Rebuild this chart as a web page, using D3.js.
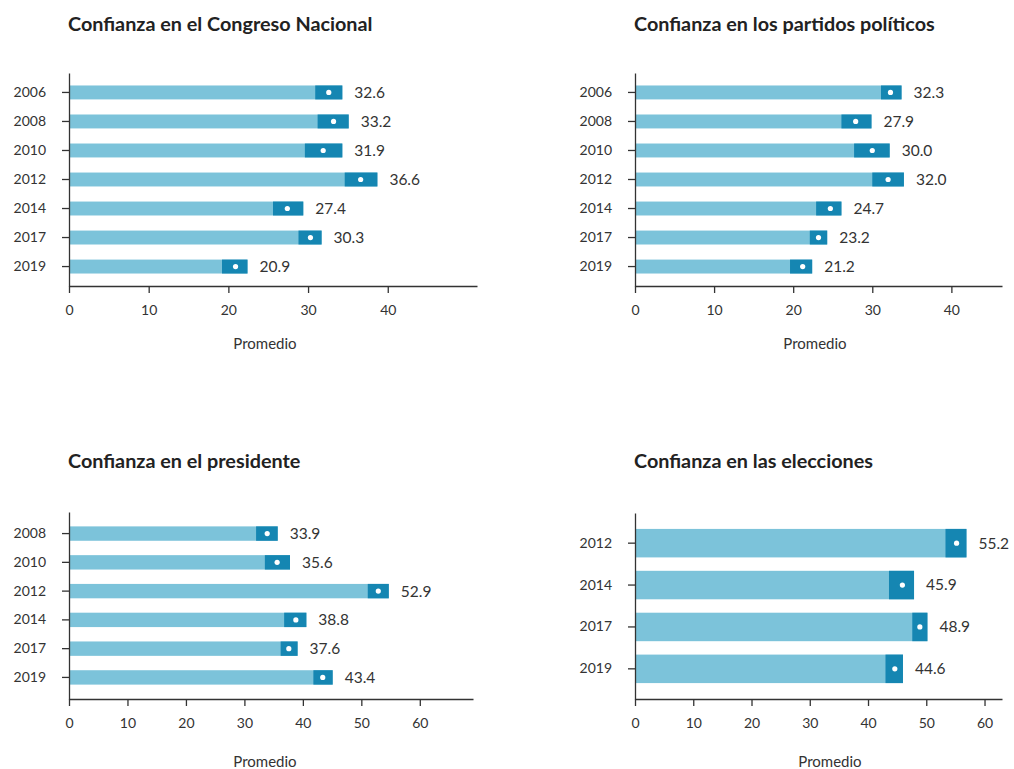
<!DOCTYPE html>
<html>
<head>
<meta charset="utf-8">
<script src="https://cdn.jsdelivr.net/npm/d3@7"></script>
<style>
  body { margin: 0; background: #fff; font-family: Lato, "Open Sans", sans-serif; }
  .title { font-weight: 700; font-size: 19.8px; fill: #222; }
  .axis text { font-family: Lato, sans-serif; font-size: 14px; fill: #333; }
  .axis path, .axis line { stroke: #333; stroke-width: 1.3; }
  .val { font-size: 15.5px; fill: #333; }
  .xlab { font-size: 15px; fill: #333; }
</style>
</head>
<body>
<svg id="chart" width="1014" height="769"></svg>
<script>
// data: mean and 95% interval
const congresoYears = ["2006", "2008", "2010", "2012", "2014", "2017", "2019"]
const congresoMean = [32.6, 33.2, 31.9, 36.6, 27.4, 30.3, 20.9]
const congresoLow  = [30.9, 31.2, 29.6, 34.6, 25.6, 28.8, 19.2]
const congresoHigh = [34.3, 35.1, 34.3, 38.7, 29.4, 31.7, 22.4]

const partidosYears = ["2006", "2008", "2010", "2012", "2014", "2017", "2019"]
const partidosMean = [32.3, 27.9, 30.0, 32.0, 24.7, 23.2, 21.2]
const partidosLow  = [31.1, 26.1, 27.7, 30.0, 22.9, 22.1, 19.6]
const partidosHigh = [33.7, 29.9, 32.2, 34.0, 26.1, 24.3, 22.4]

const presidenteYears = ["2008", "2010", "2012", "2014", "2017", "2019"]
const presidenteMean = [33.9, 35.6, 52.9, 38.8, 37.6, 43.4]
const presidenteLow  = [32.0, 33.5, 51.1, 36.8, 36.2, 41.8]
const presidenteHigh = [35.7, 37.8, 54.7, 40.6, 39.1, 45.1]

const eleccionesYears = ["2012", "2014", "2017", "2019"]
const eleccionesMean = [55.2, 45.9, 48.9, 44.6]
const eleccionesLow  = [53.3, 43.6, 47.6, 43.0]
const eleccionesHigh = [56.9, 47.9, 50.2, 46.0]

const ticks40 = [0, 10, 20, 30, 40]
const ticks60 = [0, 10, 20, 30, 40, 50, 60]

function rows(years, mean, low, high) {
    return years.map((y, i) => ({year: y, mean: mean[i], low: low[i], high: high[i]}))
}

// panel layout
let panels = [
    {title: "Confianza en el Congreso Nacional", data: rows(congresoYears, congresoMean, congresoLow, congresoHigh),
     left: 69, right: 477, xMax: 51.2, top: 73, bottom: 286, pIn: 0.52, pOut: 0.43, ticks: ticks40,
     titleY: 31, labX: 265, labY: 349},
    {title: "Confianza en los partidos políticos", data: rows(partidosYears, partidosMean, partidosLow, partidosHigh),
     left: 635, right: 1002, xMax: 46.4, top: 73, bottom: 286, pIn: 0.52, pOut: 0.43, ticks: ticks40,
     titleY: 31, labX: 815, labY: 349},
    {title: "Confianza en el presidente", data: rows(presidenteYears, presidenteMean, presidenteLow, presidenteHigh),
     left: 69, right: 473, xMax: 69.1, top: 512, bottom: 699, pIn: 0.5, pOut: 0.5, ticks: ticks60,
     titleY: 468, labX: 265, labY: 767},
    {title: "Confianza en las elecciones", data: rows(eleccionesYears, eleccionesMean, eleccionesLow, eleccionesHigh),
     left: 635, right: 1002, xMax: 63, top: 513, bottom: 699, pIn: 0.32, pOut: 0.38, ticks: ticks60,
     titleY: 468, labX: 830, labY: 767}
]

const lightBlue = "#7cc3da"
const darkBlue = "#1586b2"

let svg = d3.select("#chart")

panels.forEach(p => {
    let g = svg.append("g")

    g.append("text")
        .attr("class", "title")
        .attr("x", p.left - 1)
        .attr("y", p.titleY)
        .text(p.title)

    let x = d3.scaleLinear()
        .domain([0, p.xMax])
        .range([p.left, p.right])

    let y = d3.scaleBand()
        .domain(p.data.map(d => d.year))
        .range([p.top, p.bottom])
        .paddingInner(p.pIn)
        .paddingOuter(p.pOut)

    // light bar up to upper bound
    g.selectAll(".bar")
        .data(p.data)
        .enter().append("rect")
        .attr("class", "bar")
        .attr("x", x(0))
        .attr("y", d => y(d.year))
        .attr("width", d => x(d.high) - x(0))
        .attr("height", y.bandwidth())
        .attr("fill", lightBlue)

    // confidence interval
    g.selectAll(".ci")
        .data(p.data)
        .enter().append("rect")
        .attr("class", "ci")
        .attr("x", d => x(d.low))
        .attr("y", d => y(d.year))
        .attr("width", d => x(d.high) - x(d.low))
        .attr("height", y.bandwidth())
        .attr("fill", darkBlue)

    g.selectAll(".dot")
        .data(p.data)
        .enter().append("circle")
        .attr("cx", d => x(d.mean))
        .attr("cy", d => y(d.year) + y.bandwidth() / 2)
        .attr("r", 2.6)
        .attr("fill", "#fff")

    g.selectAll(".val")
        .data(p.data)
        .enter().append("text")
        .attr("class", "val")
        .attr("x", d => x(d.high) + 12)
        .attr("y", d => y(d.year) + y.bandwidth() / 2)
        .attr("dy", "0.35em")
        .text(d => d.mean.toFixed(1))

    g.append("g")
        .attr("class", "axis")
        .attr("transform", `translate(0,${p.bottom})`)
        .call(d3.axisBottom(x).tickValues(p.ticks).tickSize(7).tickPadding(12).tickSizeOuter(0))

    g.append("g")
        .attr("class", "axis")
        .attr("transform", `translate(${p.left},0)`)
        .call(d3.axisLeft(y).tickSize(7).tickPadding(16).tickSizeOuter(0))

    g.append("text")
        .attr("class", "xlab")
        .attr("x", p.labX)
        .attr("y", p.labY)
        .attr("text-anchor", "middle")
        .text("Promedio")
})
</script>
</body>
</html>
